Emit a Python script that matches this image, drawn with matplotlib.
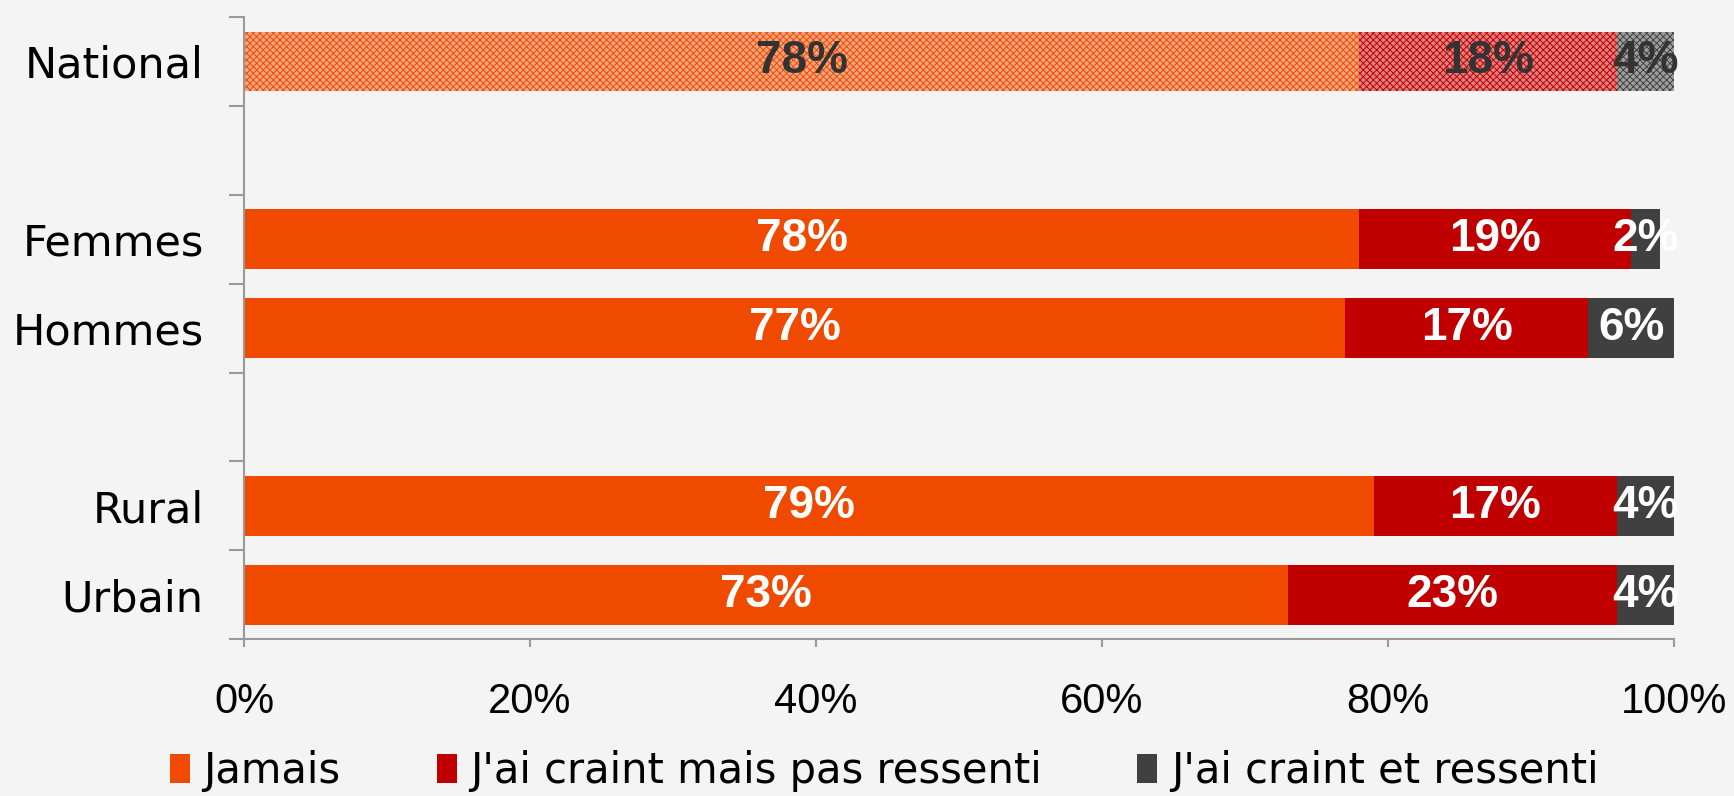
import matplotlib
matplotlib.use("Agg")
import matplotlib.pyplot as plt
from matplotlib.patches import Patch
from matplotlib.ticker import FuncFormatter, FixedLocator
import numpy as np

# ---- data ----
groups = [["National"], ["Femmes", "Hommes"], ["Rural", "Urbain"]]
series_names = ["Jamais", "J'ai craint mais pas ressenti", "J'ai craint et ressenti"]
jamais = [78, 78, 77, 79, 73]
craint_pas = [18, 19, 17, 17, 23]
craint_et = [4, 2, 6, 4, 4]
x_ticks = [0, 20, 40, 60, 80, 100]

colors = ["#EF4A00", "#C00000", "#404040"]
blend = ["#F7A580", "#DF8080", "#9F9F9F"]
bg = "#F4F4F4"

plt.rcParams['font.family'] = ['DejaVu Sans']
plt.rcParams['hatch.linewidth'] = 0.7

fig = plt.figure(figsize=(17.34, 7.96), dpi=100, facecolor=bg)
ax = fig.add_axes([0.1407, 0.197, 0.8247, 0.7816])
ax.set_facecolor(bg)

# positions with gaps between groups
cats, pos = [], []
p = 0
for gi, g in enumerate(groups):
    if gi > 0:
        p += 1
    for c in g:
        cats.append(c)
        pos.append(p)
        p += 1
nslots = p

values = [jamais, craint_pas, craint_et]
h = 0.67
left = np.zeros(len(cats))
for si, vals in enumerate(values):
    vals = np.array(vals, dtype=float)
    for i, (c, y) in enumerate(zip(cats, pos)):
        national = (c == "National")
        if national:
            ax.barh(y, vals[i], left=left[i], height=h, color=blend[si],
                    edgecolor=colors[si], hatch="xxxxx", linewidth=0)
            tc = "#333333"
        else:
            ax.barh(y, vals[i], left=left[i], height=h, color=colors[si], linewidth=0)
            tc = "white"
        ax.text(left[i] + vals[i] / 2, y, f"{int(vals[i])}%", ha="center", va="center",
                color=tc, fontsize=33, fontweight="bold", family="Liberation Sans")
    left += vals

ax.set_xlim(0, 100)
ax.set_ylim(nslots - 0.5, -0.5)
ax.set_yticks(pos)
ax.set_yticklabels(cats, fontsize=31)
ax.yaxis.set_minor_locator(FixedLocator(np.arange(-0.5, nslots, 1.0)))
ax.tick_params(axis="y", which="major", length=0, pad=29)
ax.tick_params(axis="y", which="minor", length=10.5, width=1.5, color="#999999")
ax.set_xticks(x_ticks)
ax.xaxis.set_major_formatter(FuncFormatter(lambda v, _: f"{int(v)}%"))
ax.tick_params(axis="x", length=6, width=1.5, color="#999999", pad=25)
for lab in ax.get_xticklabels():
    lab.set_fontfamily("Liberation Sans")
    lab.set_fontsize(30)

for s in ["top", "right"]:
    ax.spines[s].set_visible(False)
for s in ["left", "bottom"]:
    ax.spines[s].set_color("#999999")
    ax.spines[s].set_linewidth(1.5)

handles = [Patch(facecolor=c, edgecolor="none") for c in colors]
fig.legend(handles, series_names, loc="center", bbox_to_anchor=(0.51, 0.031), ncol=3,
           frameon=False, fontsize=30, handlelength=0.48, handleheight=0.7,
           handletextpad=0.32, columnspacing=2.3)

fig.savefig("out.png", dpi=100, facecolor=bg)
